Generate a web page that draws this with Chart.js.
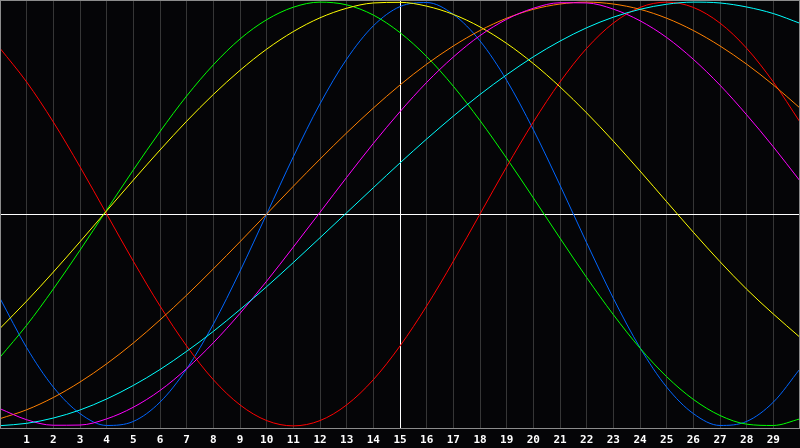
<!DOCTYPE html>
<html>
<head>
<meta charset="utf-8">
<script src="https://cdn.jsdelivr.net/npm/chart.js@4/dist/chart.umd.min.js"></script>
<style>
  body { margin: 0; background: #050507; }
  canvas { display: block; background: #050507; }
</style>
</head>
<body>
<canvas id="chart" width="800" height="448"></canvas>
<script>
// days along the bottom (0 and 30 sit on the frame, no label)
const days = [0, 1, 2, 3, 4, 5, 6, 7, 8, 9, 10, 11, 12, 13, 14, 15, 16, 17, 18, 19, 20, 21, 22, 23, 24, 25, 26, 27, 28, 29, 30];
const tickLabels = days.map(d => (d >= 1 && d <= 29 ? String(d) : ""));

// curve values, percent (-100..100), one per day
const red = [78.2, 62.3, 43.4, 22.3, 0, -22.3, -43.4, -62.3, -78.2, -90.1, -97.5, -100, -97.5, -90.1, -78.2, -62.3, -43.4, -22.3, 0, 22.3, 43.4, 62.3, 78.2, 90.1, 97.5, 100, 97.5, 90.1, 78.2, 62.3, 43.4];
const green = [-67.6, -52.5, -35.4, -17.1, 1.9, 20.8, 38.9, 55.7, 70.4, 82.6, 91.7, 97.6, 100, 98.7, 93.9, 85.6, 74.3, 60.3, 44.1, 26.3, 7.6, -11.4, -30.0, -47.5, -63.3, -76.8, -87.5, -95.1, -99.2, -99.8, -96.7];
const blue = [-39.8, -63.1, -81.7, -94.2, -99.8, -97.9, -88.8, -73.1, -52.0, -27.0, 0, 27.0, 52.0, 73.1, 88.8, 97.9, 99.8, 94.2, 81.7, 63.1, 39.8, 13.6, -13.6, -39.8, -63.1, -81.7, -94.2, -99.8, -97.9, -88.8, -73.1];
const yellow = [-54.0, -41.1, -27.4, -13.1, 1.5, 16.0, 30.2, 43.8, 56.4, 67.8, 77.8, 86.1, 92.6, 97.1, 99.6, 99.9, 98.1, 94.2, 88.3, 80.5, 71.0, 60.0, 47.7, 34.4, 20.3, 5.8, -8.6, -22.5, -35.5, -47.2, -58.2];
const orange = [-96.6, -92.4, -86.6, -79.3, -70.7, -60.9, -50.0, -38.3, -25.9, -13.1, 0, 13.1, 25.9, 38.3, 50.0, 60.9, 70.7, 79.3, 86.6, 92.4, 96.6, 99.1, 100, 99.1, 96.6, 92.4, 86.6, 79.3, 70.7, 60.9, 50.0];
const magenta = [-91.9, -97.1, -99.7, -99.6, -96.7, -91.2, -83.3, -73.0, -60.8, -46.9, -31.7, -15.6, 0.8, 17.3, 33.3, 48.3, 62.1, 74.1, 84.2, 91.9, 97.1, 99.7, 99.6, 96.7, 91.2, 83.3, 73.0, 60.8, 46.8, 31.7, 15.6];
const cyan = [-99.9, -98.8, -96.3, -92.5, -87.3, -80.9, -73.4, -64.8, -55.4, -45.1, -34.3, -22.9, -11.2, 0.6, 12.4, 24.1, 35.4, 46.2, 56.4, 65.7, 74.2, 81.6, 87.9, 92.9, 96.6, 99.0, 100, 99.6, 97.7, 94.6, 90.0];

const series = [
  { values: cyan, color: "#00ffff" },
  { values: magenta, color: "#ff00ff" },
  { values: orange, color: "#ff8000" },
  { values: yellow, color: "#ffff00" },
  { values: red, color: "#ff0000" },
  { values: green, color: "#00ff00" },
  { values: blue, color: "#0066ff" },
];

const frame = {
  id: "frame",
  beforeDatasetsDraw(chart) {
    const { ctx, chartArea } = chart;
    const y0 = Math.round(chart.scales.y.getPixelForValue(0)) + 0.5;
    ctx.save();
    ctx.strokeStyle = "#ffffff";
    ctx.lineWidth = 1;
    ctx.beginPath();
    ctx.moveTo(chartArea.left, y0);
    ctx.lineTo(chartArea.right, y0);
    ctx.stroke();
    ctx.restore();
  },
  afterDatasetsDraw(chart) {
    const { ctx, chartArea } = chart;
    ctx.save();
    ctx.strokeStyle = "#8c8c8c";
    ctx.lineWidth = 1;
    ctx.strokeRect(chartArea.left + 0.5, chartArea.top + 0.5,
      chartArea.right - chartArea.left - 1, chartArea.bottom - chartArea.top);
    ctx.restore();
  },
};

new Chart(document.getElementById("chart").getContext("2d"), {
  type: "line",
  data: {
    datasets: series.map(s => ({
      data: days.map((d, i) => ({ x: d, y: s.values[i] })),
      borderColor: s.color,
      borderWidth: 1,
      pointRadius: 0,
      cubicInterpolationMode: "monotone",
      fill: false,
    })),
  },
  options: {
    responsive: false,
    animation: false,
    devicePixelRatio: 1,
    layout: { padding: 0 },
    plugins: { legend: { display: false }, tooltip: { enabled: false } },
    scales: {
      x: {
        type: "linear",
        min: 0,
        max: 30,
        border: { display: false },
        grid: {
          drawTicks: false,
          color: c => (c.tick && c.tick.value === 15 ? "#ffffff"
            : c.tick && (c.tick.value === 0 || c.tick.value === 30) ? "rgba(0,0,0,0)" : "#363636"),
        },
        ticks: {
          stepSize: 1,
          autoSkip: false,
          maxRotation: 0,
          padding: 6,
          color: "#ffffff",
          font: { family: "DejaVu Sans Mono", size: 11, weight: "bold" },
          callback: v => tickLabels[v] ?? "",
        },
        afterFit: scale => {
          scale.paddingLeft = 0;
          scale.paddingRight = 0;
          scale.height = 20;
        },
      },
      y: {
        display: false,
        min: -101,
        max: 101,
      },
    },
  },
  plugins: [frame],
});
</script>
</body>
</html>
